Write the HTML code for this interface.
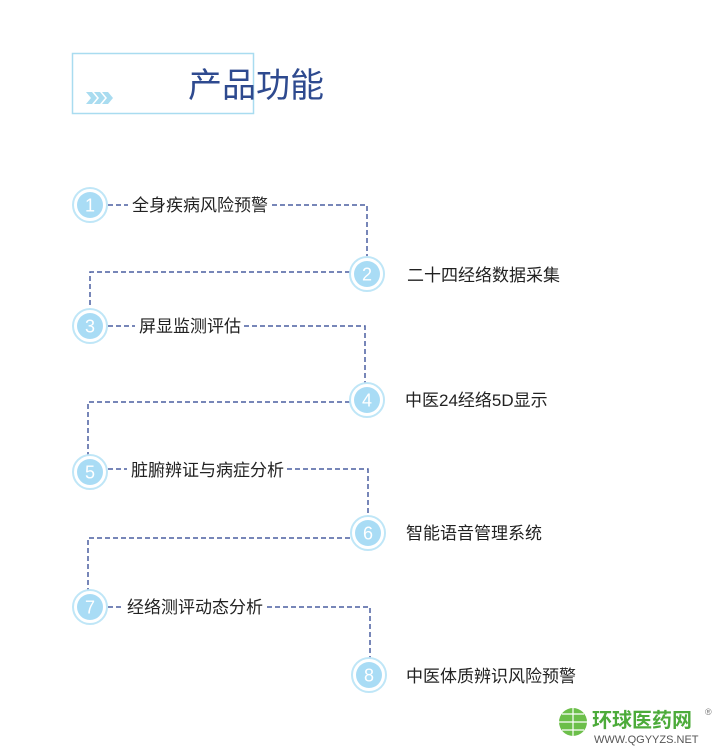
<!DOCTYPE html>
<html><head><meta charset="utf-8"><style>
body{margin:0;width:721px;height:750px;background:#fff;overflow:hidden;font-family:"Liberation Sans","Noto Sans CJK SC",sans-serif}
</style></head><body>
<svg width="721" height="750" xmlns="http://www.w3.org/2000/svg" style="position:absolute;left:0;top:0">
<rect x="72.5" y="53.5" width="181" height="60" fill="none" stroke="#a9dcf0" stroke-width="1.5"/>
<g fill="#a9dcf0">
<polygon points="86,92 92,92 97,98 92,104 86,104 91,98"/>
<polygon points="94,92 100,92 105,98 100,104 94,104 99,98"/>
<polygon points="102,92 108,92 113,98 108,104 102,104 107,98"/>
</g>
<text x="188" y="97" font-size="34" fill="#2e4a8f" font-family="Noto Sans CJK SC,sans-serif">产品功能</text>
<g stroke="#4a5fa0" stroke-width="1.5" stroke-dasharray="5,3" fill="none">
<path d="M108 205 H128"/><path d="M272 205 H367 V256"/>
<path d="M350 272 H90 V308"/>
<path d="M108 326 H135"/><path d="M244 326 H365 V383"/>
<path d="M350 402 H88 V455"/>
<path d="M108 469 H127"/><path d="M287 469 H368 V516"/>
<path d="M350 538 H88 V590"/>
<path d="M108 607 H123"/><path d="M267 607 H370 V658"/>
</g>
<g font-size="18" fill="#fff" text-anchor="middle" font-family="Liberation Sans,sans-serif">
<g><circle cx="90" cy="205" r="17" fill="#fff" stroke="#bfe6f7" stroke-width="2"/><circle cx="90" cy="205" r="13" fill="#a9dcf5"/><text x="90" y="211.5">1</text></g>
<g><circle cx="367" cy="274" r="17" fill="#fff" stroke="#bfe6f7" stroke-width="2"/><circle cx="367" cy="274" r="13" fill="#a9dcf5"/><text x="367" y="280.5">2</text></g>
<g><circle cx="90" cy="326" r="17" fill="#fff" stroke="#bfe6f7" stroke-width="2"/><circle cx="90" cy="326" r="13" fill="#a9dcf5"/><text x="90" y="332.5">3</text></g>
<g><circle cx="367" cy="400" r="17" fill="#fff" stroke="#bfe6f7" stroke-width="2"/><circle cx="367" cy="400" r="13" fill="#a9dcf5"/><text x="367" y="406.5">4</text></g>
<g><circle cx="90" cy="472" r="17" fill="#fff" stroke="#bfe6f7" stroke-width="2"/><circle cx="90" cy="472" r="13" fill="#a9dcf5"/><text x="90" y="478.5">5</text></g>
<g><circle cx="368" cy="533" r="17" fill="#fff" stroke="#bfe6f7" stroke-width="2"/><circle cx="368" cy="533" r="13" fill="#a9dcf5"/><text x="368" y="539.5">6</text></g>
<g><circle cx="90" cy="607" r="17" fill="#fff" stroke="#bfe6f7" stroke-width="2"/><circle cx="90" cy="607" r="13" fill="#a9dcf5"/><text x="90" y="613.5">7</text></g>
<g><circle cx="369" cy="675" r="17" fill="#fff" stroke="#bfe6f7" stroke-width="2"/><circle cx="369" cy="675" r="13" fill="#a9dcf5"/><text x="369" y="681.5">8</text></g>
</g>
<g font-size="17" fill="#222" font-family="Liberation Sans,Noto Sans CJK SC,sans-serif">
<text x="132" y="211">全身疾病风险预警</text>
<text x="407" y="281">二十四经络数据采集</text>
<text x="139" y="332">屏显监测评估</text>
<text x="405" y="406">中医24经络5D显示</text>
<text x="131" y="476">脏腑辨证与病症分析</text>
<text x="406" y="539">智能语音管理系统</text>
<text x="127" y="613">经络测评动态分析</text>
<text x="406" y="682">中医体质辨识风险预警</text>
</g>
<g>
<circle cx="573" cy="722" r="14" fill="#6cbf4a"/>
<path d="M559 722 H587 M573 708 V736 M562 714 H584 M562 730 H584" stroke="#fff" stroke-width="1.2"/>
<text x="592" y="727" font-size="20" font-weight="bold" fill="#4cab3a" font-family="Noto Sans CJK SC,sans-serif">环球医药网</text>
<text x="594" y="743" font-size="11" fill="#555">WWW.QGYYZS.NET</text>
<text x="705" y="715" font-size="9" fill="#777">®</text>
</g>
</svg>
</body></html>
